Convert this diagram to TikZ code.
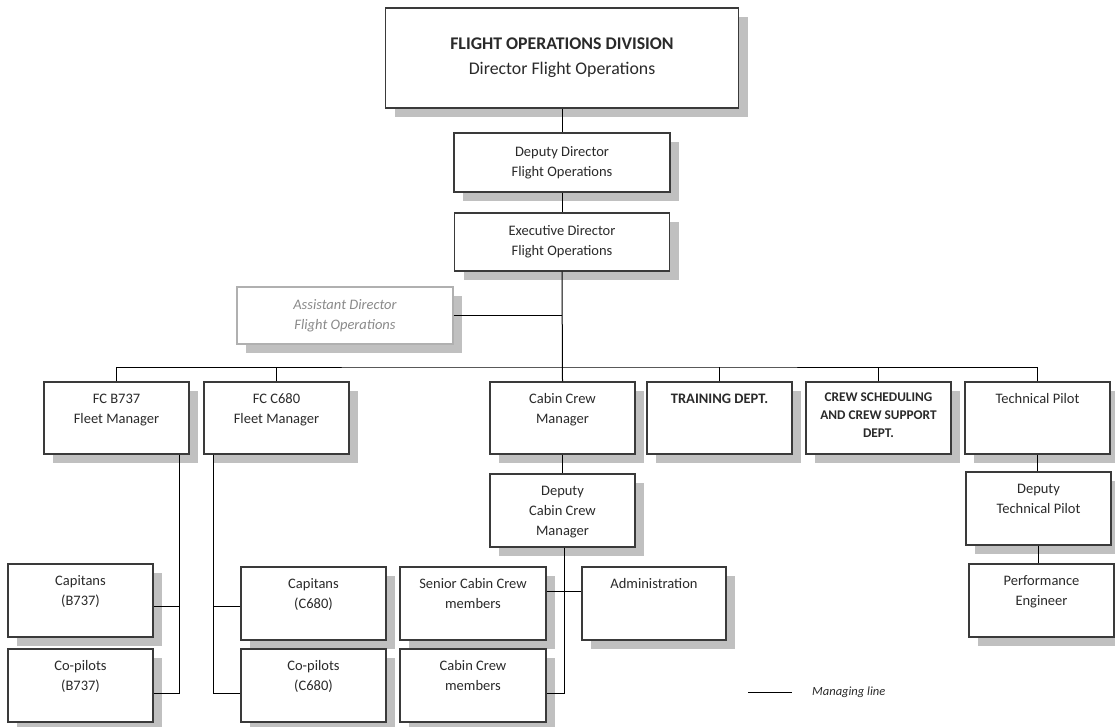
\documentclass[tikz,border=0pt]{standalone}
\usepackage{fontspec}
\setmainfont{Carlito}
\usetikzlibrary{shadows}
\definecolor{shd}{HTML}{C0C0C0}
\definecolor{bord}{HTML}{3A3A3A}
\definecolor{txt}{HTML}{2A2A2A}
\definecolor{lightbord}{HTML}{B0B0B0}
\definecolor{lighttxt}{HTML}{8A8A8A}
\tikzset{
  box/.style={draw=bord, line width=1.2pt, fill=white, inner sep=0pt,
    drop shadow={shadow xshift=9pt, shadow yshift=-9pt, fill=shd, opacity=1}},
  rowbox/.style={box, minimum width=145pt, minimum height=72pt},
  lowbox/.style={box, minimum width=145pt, minimum height=73pt},
  lbl/.style={anchor=north, inner sep=0pt, align=center, text=txt,
    font=\fontsize{14.5}{20}\selectfont},
  ctr/.style={inner sep=0pt, align=center, text=txt,
    font=\fontsize{14.5}{20}\selectfont},
  conn/.style={draw=black, line width=1pt},
}
\begin{document}
\begin{tikzpicture}[x=1pt,y=-1pt]
\useasboundingbox (0,0) rectangle (1115,727);

% top chain
\node[box, minimum width=353pt, minimum height=100pt] (top) at (562,58) {};
\node[ctr, font=\fontsize{17.8}{25}\selectfont] (topt) at (top) {\textbf{FLIGHT OPERATIONS DIVISION}\\Director Flight Operations};
\node[box, minimum width=216pt, minimum height=59pt] (dep) at (562,162.5) {};
\node[ctr] (dept) at (dep) {Deputy Director\\Flight Operations};
\node[box, minimum width=215pt, minimum height=58pt] (exec) at (562,242) {};
\node[ctr] (exect) at (exec) {Executive Director\\Flight Operations};
\node[box, draw=lightbord, minimum width=216pt, minimum height=57pt] (asst) at (345,315.5) {};
\node[ctr, text=lighttxt, font=\itshape\fontsize{14.5}{20}\selectfont] (asstt) at (asst) {Assistant Director\\Flight Operations};

% row of departments
\node[rowbox] (fcb) at (116.5,418) {};
\node[lbl] (fcbt) at ([yshift=-8pt]fcb.north) {\strut FC B737\\Fleet Manager};
\node[rowbox] (fcc) at (276.5,418) {};
\node[lbl] (fcct) at ([yshift=-8pt]fcc.north) {\strut FC C680\\Fleet Manager};
\node[rowbox] (ccm) at (562.5,418) {};
\node[lbl] (ccmt) at ([yshift=-8pt]ccm.north) {\strut Cabin Crew\\Manager};
\node[rowbox] (trn) at (719.5,418) {};
\node[lbl, font=\bfseries\fontsize{14.5}{20}\selectfont] (trnt) at ([yshift=-8pt]trn.north) {\strut TRAINING DEPT.};
\node[rowbox] (crw) at (878.5,418) {};
\node[lbl, font=\bfseries\fontsize{13.3}{18}\selectfont] (crwt) at ([yshift=-7pt]crw.north) {\strut CREW SCHEDULING\\AND CREW SUPPORT\\DEPT.};
\node[rowbox] (tp) at (1037.5,418) {};
\node[lbl] (tpt) at ([yshift=-8pt]tp.north) {\strut Technical Pilot};

% second level
\node[lowbox] (dccm) at (562.5,510.5) {};
\node[lbl] (dccmt) at ([yshift=-8pt]dccm.north) {\strut Deputy\\Cabin Crew\\Manager};
\node[lowbox] (dtp) at (1038.5,508.5) {};
\node[lbl] (dtpt) at ([yshift=-8pt]dtp.north) {\strut Deputy\\Technical Pilot};

% bottom level
\node[lowbox] (capb) at (80.5,600.5) {};
\node[lbl] (capbt) at ([yshift=-8pt]capb.north) {\strut Capitans\\(B737)};
\node[lowbox] (cpb) at (80.5,685.5) {};
\node[lbl] (cpbt) at ([yshift=-8pt]cpb.north) {\strut Co-pilots\\(B737)};
\node[lowbox] (capc) at (313.5,603.5) {};
\node[lbl] (capct) at ([yshift=-8pt]capc.north) {\strut Capitans\\(C680)};
\node[lowbox] (cpc) at (313.5,685.5) {};
\node[lbl] (cpct) at ([yshift=-8pt]cpc.north) {\strut Co-pilots\\(C680)};
\node[lowbox, minimum width=146pt] (scc) at (473,603.5) {};
\node[lbl] (scct) at ([yshift=-8pt]scc.north) {\strut Senior Cabin Crew\\members};
\node[lowbox, minimum width=144pt] (adm) at (654,603.5) {};
\node[lbl] (admt) at ([yshift=-8pt]adm.north) {\strut Administration};
\node[lowbox, minimum width=146pt] (ccmem) at (473,685.5) {};
\node[lbl] (ccmemt) at ([yshift=-8pt]ccmem.north) {\strut Cabin Crew\\members};
\node[lowbox] (pe) at (1041.5,600.5) {};
\node[lbl] (pet) at ([yshift=-8pt]pe.north) {\strut Performance\\Engineer};

% connectors
\draw[conn] (top.south) -- (dep.north);
\draw[conn] (dep.south) -- (exec.north);
\draw[conn] (exec.south) -- (ccm.north);
\draw[conn] (asst.east) -- (asst.east -| exec.south);
\coordinate (bus) at (562,367);
\draw[conn] (fcb.north) |- (bus) -| (tp.north);
\draw[conn] (fcc.north) -- (fcc.north |- bus);
\draw[conn] (trn.north) -- (trn.north |- bus);
\draw[conn] (crw.north) -- (crw.north |- bus);

\draw[conn] ([xshift=-10pt]fcb.south east) |- ([yshift=-5.5pt]capb.east);
\draw[conn] ([xshift=-10pt]fcb.south east) |- ([yshift=-7.5pt]cpb.east);
\draw[conn] ([xshift=10pt]fcc.south west) |- ([yshift=-2.5pt]capc.west);
\draw[conn] ([xshift=10pt]fcc.south west) |- ([yshift=-7.5pt]cpc.west);

\draw[conn] (ccm.south) -- (dccm.north);
\draw[conn] ([xshift=1.5pt]dccm.south) |- ([yshift=-7.5pt]ccmem.east);
\draw[conn] ([yshift=12.5pt]scc.east) -- ([yshift=12.5pt]adm.west);

\draw[conn] (tp.south) -- (tp.south |- dtp.north);
\draw[conn] (dtp.south) -- (dtp.south |- pe.north);

% legend
\coordinate (lg1) at (748,692);
\coordinate (lg2) at (792,692);
\draw[conn] (lg1) -- (lg2);
\node[anchor=west, inner sep=0pt, text=txt, font=\itshape\fontsize{12.5}{14}\selectfont] (lgt) at (812,692) {Managing line};
\end{tikzpicture}
\end{document}
